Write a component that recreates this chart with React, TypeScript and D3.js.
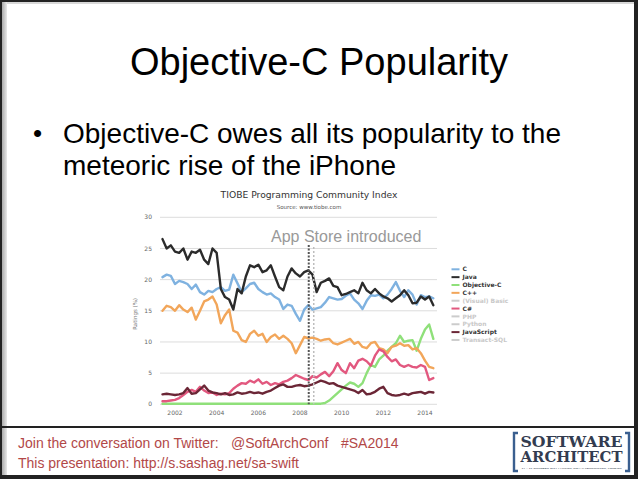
import React from "react";
import * as d3 from "d3";

const years: number[] = d3.range(66).map((i) => +(2001.4 + i * 0.2).toFixed(2));

const cValues = [20.4,20.8,20.6,19.3,19.8,19.6,19.3,18.5,19.2,18.0,17.6,18.2,18.0,18.5,18.8,18.2,18.4,20.8,19.4,18.0,18.6,19.3,19.5,18.5,18.0,17.6,17.8,17.2,16.8,15.3,16.0,15.8,14.5,13.4,15.2,15.9,15.2,15.4,15.6,16.3,17.2,17.0,16.8,16.9,17.4,17.8,16.8,16.2,15.3,16.6,17.5,17.4,17.6,17.0,17.6,18.5,19.6,18.2,17.2,18.3,17.6,16.0,17.5,17.2,17.3,17.0];
const javaValues = [26.5,25.0,25.5,24.5,24.3,25.0,23.2,24.5,24.3,24.8,23.2,22.5,25.0,24.3,18.5,17.2,16.8,15.2,18.5,17.8,20.5,22.3,22.0,22.4,21.2,21.5,22.3,20.5,18.8,18.3,20.5,21.8,21.0,20.5,21.2,21.5,20.8,18.0,19.5,19.8,20.2,19.0,18.8,17.5,17.7,18.0,18.3,17.8,19.5,18.3,17.8,18.5,17.8,17.3,17.0,16.5,17.0,17.5,18.3,17.5,16.2,16.3,17.3,16.8,17.3,15.9];
const objcValues = [0.1,0.1,0.1,0.1,0.1,0.1,0.1,0.1,0.1,0.1,0.1,0.1,0.1,0.1,0.1,0.1,0.1,0.1,0.1,0.1,0.1,0.1,0.1,0.1,0.1,0.1,0.1,0.1,0.1,0.1,0.1,0.1,0.1,0.1,0.1,0.1,0.1,0.1,0.1,0.2,0.6,1.2,1.8,2.4,3.0,3.5,3.3,2.8,3.4,5.0,6.3,6.0,7.2,7.8,8.6,9.2,9.8,11.0,10.0,10.2,10.3,8.6,10.5,12.0,12.8,10.5];
const cppValues = [15.0,15.8,15.6,15.0,15.9,15.2,14.8,15.5,13.6,15.0,16.5,16.8,17.3,16.0,13.0,14.3,15.2,11.8,11.5,10.3,10.0,11.3,11.8,11.0,11.3,10.0,10.8,11.2,10.5,11.0,10.5,9.8,8.2,9.5,10.8,10.6,10.7,10.5,10.2,10.4,10.5,9.8,9.6,9.9,10.2,10.5,9.7,10.0,9.2,9.0,9.8,10.0,9.0,8.8,8.2,9.2,9.4,9.8,9.4,9.5,8.8,9.0,8.2,7.0,6.0,5.8];
const csharpValues = [0.5,0.5,0.6,0.7,1.0,1.5,2.0,2.3,2.0,2.8,2.2,1.8,1.9,1.5,1.7,1.6,1.8,2.5,3.0,3.4,3.3,3.8,3.5,4.0,3.3,3.6,3.1,3.4,3.2,3.6,3.8,4.2,4.7,4.4,4.1,3.9,4.5,4.3,4.8,5.2,4.5,5.3,6.6,5.5,5.0,6.6,5.8,7.0,7.3,6.9,6.2,7.8,8.8,8.5,7.6,6.9,7.2,6.3,6.0,6.3,6.0,5.9,6.3,6.0,3.9,4.2];
const jsValues = [1.6,1.7,1.6,1.5,1.6,1.8,2.6,1.7,1.8,2.4,3.0,2.2,1.9,1.8,1.6,1.8,1.5,1.6,1.9,1.7,1.8,2.0,1.8,1.9,1.7,2.0,2.2,2.6,3.0,3.2,2.8,2.8,3.0,3.1,2.9,3.0,3.2,3.5,3.8,3.6,3.3,3.4,3.0,2.8,2.6,2.4,2.2,1.8,2.3,1.6,1.7,2.0,2.5,2.8,1.8,1.5,1.4,1.5,1.7,1.5,1.8,1.9,2.0,1.7,2.0,1.9];

const legendNames = ["C","Java","Objective-C","C++","(Visual) Basic","C#","PHP","Python","JavaScript","Transact-SQL"];
const legendColors = ["#7fb2e0","#2b2b2b","#8fe07a","#f2a65a","#cccccc","#e2587f","#cccccc","#cccccc","#6b2636","#cccccc"];
const legendActive = [true,true,true,true,false,true,false,false,true,false];

const seriesList = [
  { name: "C", values: cValues, color: "#7fb2e0" },
  { name: "Java", values: javaValues, color: "#2b2b2b" },
  { name: "Objective-C", values: objcValues, color: "#8fe07a" },
  { name: "C++", values: cppValues, color: "#f2a65a" },
  { name: "C#", values: csharpValues, color: "#e2587f" },
  { name: "JavaScript", values: jsValues, color: "#6b2636" },
];

const yTicks = [0, 5, 10, 15, 20, 25, 30];
const xTicks = [2002, 2004, 2006, 2008, 2010, 2012, 2014];
const appStoreYear = 2008.42;
const bandEdgeYear = 2008.66;

export default function App() {
  const x = d3.scaleLinear().domain([2002, 2014]).range([175, 425]);
  const y = d3.scaleLinear().domain([0, 30]).range([404.3, 217.3]);
  const line = d3
    .line<number>()
    .x((_, i) => x(years[i]))
    .y((v) => y(v));

  const red = "#b24848";
  return (
    <svg
      width={638}
      height={479}
      style={{ position: "fixed", left: 0, top: 0, background: "#fff" }}
      fontFamily="'Liberation Sans', Arial, sans-serif"
    >
      <defs>
        <linearGradient id="lg" x1="0" x2="1" y1="0" y2="0">
          <stop offset="0" stopColor="#aaaaaa" />
          <stop offset="1" stopColor="#e8e8e8" />
        </linearGradient>
      </defs>
      <rect x={0} y={0} width={638} height={479} fill="#fff" />
      {/* frame */}
      <rect x={0} y={0} width={638} height={2} fill="#222" />
      <rect x={2} y={2} width={632} height={2} fill="#d8d8d8" />
      <rect x={2} y={2} width={5} height={473} fill="url(#lg)" />
      <rect x={0} y={0} width={2} height={479} fill="#222" />
      <rect x={634} y={0} width={4} height={479} fill="#222" />
      <rect x={0} y={475} width={638} height={4} fill="#222" />
      <rect x={0} y={426} width={638} height={2} fill="#222" />

      {/* slide title */}
      <text x={319} y={75} textAnchor="middle" fontSize={38} fill="#000">
        Objective-C Popularity
      </text>
      <text x={33} y={142} fontSize={26} fill="#000">•</text>
      <text x={63} y={143} fontSize={28} fill="#000">
        Objective-C owes all its popularity to the
      </text>
      <text x={63} y={175} fontSize={28} fill="#000">
        meteoric rise of the iPhone
      </text>

      {/* chart title */}
      <text x={309} y={198} textAnchor="middle" fontSize={9.2} fill="#333" fontFamily="'DejaVu Sans', sans-serif">
        TIOBE Programming Community Index
      </text>
      <text x={309} y={209} textAnchor="middle" fontSize={5.5} fill="#555" fontFamily="'DejaVu Sans', sans-serif">
        Source: www.tiobe.com
      </text>

      {/* grid */}
      {yTicks.map((t) => (
        <g key={t}>
          <line x1={160} x2={437} y1={y(t)} y2={y(t)} stroke="#dcdcdc" strokeWidth={1} />
          <text x={152} y={y(t)} dy="0.35em" textAnchor="end" fontSize={6} fill="#666" fontFamily="'DejaVu Sans', sans-serif">
            {t}
          </text>
        </g>
      ))}
      {xTicks.map((t) => (
        <text key={t} x={x(t)} y={415} textAnchor="middle" fontSize={6} fill="#666" fontFamily="'DejaVu Sans', sans-serif">
          {t}
        </text>
      ))}
      <text
        transform={`translate(137,${y(14.5)}) rotate(-90)`}
        textAnchor="middle"
        fontSize={5.5}
        fill="#777"
        fontFamily="'DejaVu Sans', sans-serif"
      >
        Ratings (%)
      </text>

      {/* series */}
      {seriesList.map((s) => (
        <path
          key={s.name}
          d={line(s.values) || ""}
          fill="none"
          stroke={s.color}
          strokeWidth={2.4}
          strokeLinejoin="round"
          strokeLinecap="round"
        />
      ))}

      {/* app store markers */}
      <line x1={x(bandEdgeYear)} x2={x(bandEdgeYear)} y1={247} y2={y(0)} stroke="#bdbdbd" strokeWidth={1.5} strokeDasharray="2,2" />
      <line x1={x(appStoreYear)} x2={x(appStoreYear)} y1={245} y2={y(0)} stroke="#555" strokeWidth={2} strokeDasharray="2,1.5" />
      <text x={271} y={242} fontSize={16} fill="#999">
        App Store introduced
      </text>

      {/* legend */}
      {legendNames.map((n, i) => (
        <g key={n} transform={`translate(0,${269.3 + i * 7.85})`}>
          <line x1={451.5} x2={459.5} y1={0} y2={0} stroke={legendColors[i]} strokeWidth={2} />
          <text
            x={462.5}
            y={0}
            dy="0.35em"
            fontSize={6}
            fontWeight="bold"
            fill={legendActive[i] ? "#333" : "#c8c8c8"}
            fontFamily="'DejaVu Sans', sans-serif"
          >
            {n}
          </text>
        </g>
      ))}

      {/* footer */}
      <text x={18} y={448} fontSize={14} fill={red}>
        Join the conversation on Twitter:
      </text>
      <text x={231} y={448} fontSize={14} fill={red}>@SoftArchConf</text>
      <text x={341} y={448} fontSize={14} fill={red}>#SA2014</text>
      <text x={18} y={468} fontSize={14} fill={red}>
        This presentation: http://s.sashag.net/sa-swift
      </text>

      {/* logo */}
      <g>
        <path d="M518,433 L514,433 L514,471 L518,471" fill="none" stroke="#3a5f8f" strokeWidth={2.4} />
        <path d="M625,433 L629,433 L629,471 L625,471" fill="none" stroke="#3a5f8f" strokeWidth={2.4} />
        <text x={571.5} y={447} textAnchor="middle" fontSize={14} fontWeight="bold" fill="#333c50" fontFamily="'DejaVu Serif', serif" textLength={102} lengthAdjust="spacingAndGlyphs">
          SOFTWARE
        </text>
        <text x={571.5} y={462} textAnchor="middle" fontSize={14} fontWeight="bold" fill="#333c50" fontFamily="'DejaVu Serif', serif" textLength={102} lengthAdjust="spacingAndGlyphs">
          ARCHITECT
        </text>
        <text x={571.5} y={468.5} textAnchor="middle" fontSize={2.5} fill="#333c50" textLength={100} lengthAdjust="spacingAndGlyphs">
          14 – 17 OCTOBER 2014 • HILTON, ROYAL KENSINGTON, LONDON
        </text>
      </g>
    </svg>
  );
}
